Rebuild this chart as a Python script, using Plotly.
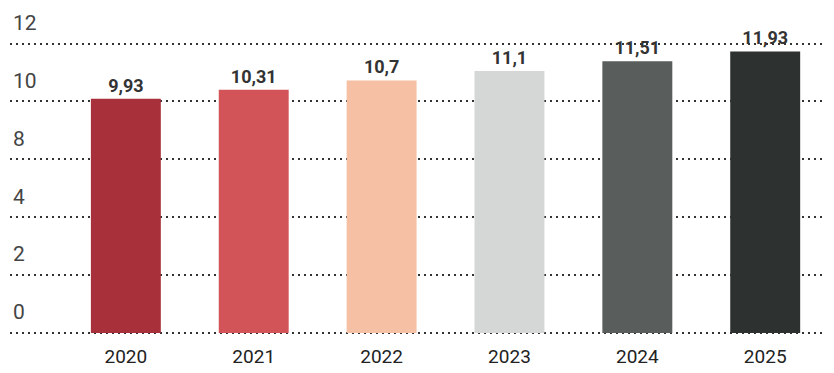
import plotly.graph_objects as go

# Data
years = ["2020", "2021", "2022", "2023", "2024", "2025"]
values = [9.93, 10.31, 10.7, 11.1, 11.51, 11.93]
value_labels = ["9,93", "10,31", "10,7", "11,1", "11,51", "11,93"]
y_tick_labels = ["0", "2", "4", "8", "10", "12"]

# Styles
bar_colors = ["#a8303a", "#d35458", "#f5c0a3", "#d5d7d6", "#595d5c", "#2d3230"]
Y_MIN = -0.085
Y_MAX = 13.77
GRID_STEP = 2.453
LABEL_OFFSET = 0.89

grid_vals = [i * GRID_STEP for i in range(len(y_tick_labels))]
label_vals = [g + LABEL_OFFSET for g in grid_vals]

fig = go.Figure()
fig.add_trace(go.Bar(
    x=years,
    y=values,
    marker=dict(color=bar_colors, line=dict(width=0)),
    text=value_labels,
    textposition="outside",
    textfont=dict(family="Roboto", size=18, color="#333333", weight="bold"),
    cliponaxis=False,
    showlegend=False,
))
# empty helper trace so the label axis is drawn
fig.add_trace(go.Scatter(x=[], y=[], yaxis="y2", showlegend=False, hoverinfo="skip"))

fig.update_layout(
    width=834,
    height=373,
    margin=dict(l=2, r=8, t=0, b=46),
    paper_bgcolor="white",
    plot_bgcolor="white",
    bargap=0.453,
    xaxis=dict(
        type="category",
        range=[-0.906, 5.538],
        showgrid=False,
        zeroline=False,
        showline=False,
        ticks="",
        tickfont=dict(family="Roboto", size=19, color="#222222"),
        ticklabelstandoff=8,
    ),
    yaxis=dict(
        range=[Y_MIN, Y_MAX],
        tickmode="array",
        tickvals=grid_vals,
        showticklabels=False,
        showgrid=True,
        gridcolor="#333333",
        gridwidth=2,
        griddash="2px,4px",
        zeroline=False,
        showline=False,
        ticks="",
    ),
    yaxis2=dict(
        overlaying="y",
        side="left",
        range=[Y_MIN, Y_MAX],
        tickmode="array",
        tickvals=label_vals,
        ticktext=y_tick_labels,
        ticklabelposition="inside",
        showgrid=False,
        zeroline=False,
        showline=False,
        ticks="",
        tickfont=dict(family="Roboto", size=21, color="#444444"),
    ),
)

fig.write_html("out.html")
